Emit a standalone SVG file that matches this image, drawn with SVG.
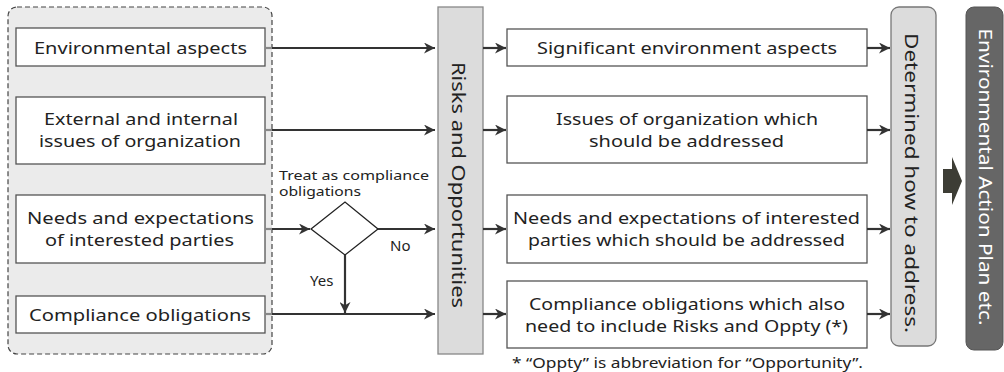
<svg xmlns="http://www.w3.org/2000/svg" width="1004" height="372" viewBox="0 0 1004 372">
<defs>
<marker id="ah" viewBox="0 0 10 10" refX="10" refY="5" markerWidth="11" markerHeight="11" markerUnits="userSpaceOnUse" orient="auto">
<path d="M0,0 L10,5 L0,10 L3,5 z" fill="#333"/>
</marker>
<style>
.box{fill:#fff;stroke:#555;stroke-width:1.3}
.t{font-family:"Noto Sans","Liberation Sans",sans-serif;font-size:17px;fill:#222;text-anchor:middle}
.s{font-family:"Noto Sans","Liberation Sans",sans-serif;font-size:14px;fill:#222}
.c{stroke:#333;stroke-width:2.2;fill:none}
.stub{stroke:#888;stroke-width:2.2}
.v{font-family:"Noto Sans","Liberation Sans",sans-serif;font-size:18px;fill:#222;text-anchor:middle}
</style>
</defs>
<rect width="1004" height="372" fill="#fff"/>

<g id="container">
<rect x="8" y="7" width="264" height="347" rx="9" fill="#ebebeb" stroke="#444" stroke-width="1.2" stroke-dasharray="5,3"/>
</g>

<g id="env-aspects"><rect class="box" x="16" y="28" width="249" height="38"/><text class="t" x="140.5" y="54" textLength="213" lengthAdjust="spacingAndGlyphs">Environmental aspects</text></g>
<g id="issues"><rect class="box" x="16" y="97" width="249" height="67"/><text class="t" x="141" y="125" textLength="194" lengthAdjust="spacingAndGlyphs">External and internal</text><text class="t" x="140" y="147" textLength="202" lengthAdjust="spacingAndGlyphs">issues of organization</text></g>
<g id="needs"><rect class="box" x="16" y="195" width="249" height="68"/><text class="t" x="140.5" y="224" textLength="227" lengthAdjust="spacingAndGlyphs">Needs and expectations</text><text class="t" x="139.5" y="246" textLength="189" lengthAdjust="spacingAndGlyphs">of interested parties</text></g>
<g id="compliance"><rect class="box" x="16" y="296" width="249" height="37"/><text class="t" x="140" y="321" textLength="222" lengthAdjust="spacingAndGlyphs">Compliance obligations</text></g>

<g id="decision"><path d="M311,229 L345,202 L378,229 L345,255 Z" fill="#fff" stroke="#222" stroke-width="1.3"/>
<text class="s" x="279" y="180" style="font-size:13px" textLength="150" lengthAdjust="spacingAndGlyphs">Treat as compliance</text><text class="s" x="279" y="196" style="font-size:13px" textLength="82" lengthAdjust="spacingAndGlyphs">obligations</text></g>

<g id="risks"><rect x="438" y="7" width="45" height="347" fill="#dcdcdc" stroke="#888" stroke-width="1.3"/><text class="v" transform="translate(452,185) rotate(90)" textLength="246" lengthAdjust="spacingAndGlyphs">Risks and Opportunities</text></g>

<g id="sig"><rect class="box" x="507" y="29" width="360" height="37"/><text class="t" x="687" y="54" textLength="300" lengthAdjust="spacingAndGlyphs">Significant environment aspects</text></g>
<g id="iss-addr"><rect class="box" x="507" y="96" width="360" height="67"/><text class="t" x="687" y="125" textLength="262" lengthAdjust="spacingAndGlyphs">Issues of organization which</text><text class="t" x="686.5" y="147" textLength="195" lengthAdjust="spacingAndGlyphs">should be addressed</text></g>
<g id="needs-addr"><rect class="box" x="507" y="195" width="360" height="68"/><text class="t" x="686.5" y="224" textLength="347" lengthAdjust="spacingAndGlyphs">Needs and expectations of interested</text><text class="t" x="686.5" y="246" textLength="317" lengthAdjust="spacingAndGlyphs">parties which should be addressed</text></g>
<g id="comp-addr"><rect class="box" x="507" y="281" width="360" height="67"/><text class="t" x="687" y="310" textLength="316" lengthAdjust="spacingAndGlyphs">Compliance obligations which also</text><text class="t" x="686.5" y="332" textLength="323" lengthAdjust="spacingAndGlyphs">need to include Risks and Oppty (*)</text></g>
<text class="s" x="687.5" y="368" text-anchor="middle" style="font-size:15px" textLength="351" lengthAdjust="spacingAndGlyphs">* “Oppty” is abbreviation for “Opportunity”.</text>

<g id="determined"><rect x="891" y="7" width="45" height="339" rx="8" fill="#dcdcdc" stroke="#777" stroke-width="1.3"/><text class="v" transform="translate(905,183) rotate(90)" textLength="300" lengthAdjust="spacingAndGlyphs">Determined how to address.</text></g>

<g id="plan"><rect x="966" y="7" width="37" height="343" rx="8" fill="#666" stroke="#555" stroke-width="1"/><text class="v" style="fill:#fff" transform="translate(979,177) rotate(90)" textLength="297" lengthAdjust="spacingAndGlyphs">Environmental Action Plan etc.</text></g>

<g id="connectors">
<line class="stub" x1="265" y1="48" x2="272" y2="48"/>
<line class="stub" x1="265" y1="130" x2="272" y2="130"/>
<line class="stub" x1="265" y1="229" x2="272" y2="229"/>
<line class="stub" x1="265" y1="314" x2="272" y2="314"/>
<line class="c" x1="272" y1="48" x2="435" y2="48" marker-end="url(#ah)"/>
<line class="c" x1="272" y1="130" x2="435" y2="130" marker-end="url(#ah)"/>
<line class="c" x1="272" y1="229" x2="310" y2="229" marker-end="url(#ah)"/>
<line class="c" x1="378" y1="229" x2="435" y2="229" marker-end="url(#ah)"/>
<line class="c" x1="272" y1="314" x2="435" y2="314" marker-end="url(#ah)"/>
<line class="c" x1="345" y1="255" x2="345" y2="313" marker-end="url(#ah)"/>
<text class="s" x="390" y="251" style="font-size:15px">No</text>
<text class="s" x="310" y="286" style="font-size:15px">Yes</text>
<line class="c" x1="483" y1="48" x2="506" y2="48" marker-end="url(#ah)"/>
<line class="c" x1="483" y1="130" x2="506" y2="130" marker-end="url(#ah)"/>
<line class="c" x1="483" y1="229" x2="506" y2="229" marker-end="url(#ah)"/>
<line class="c" x1="483" y1="314" x2="506" y2="314" marker-end="url(#ah)"/>
<line class="c" x1="867" y1="48" x2="890" y2="48" marker-end="url(#ah)"/>
<line class="c" x1="867" y1="130" x2="890" y2="130" marker-end="url(#ah)"/>
<line class="c" x1="867" y1="229" x2="890" y2="229" marker-end="url(#ah)"/>
<line class="c" x1="867" y1="314" x2="890" y2="314" marker-end="url(#ah)"/>
<path d="M943,169 L952,169 L952,157 L962,181 L952,205 L952,193 L943,193 Z" fill="#3d3d35"/>
</g>
</svg>
